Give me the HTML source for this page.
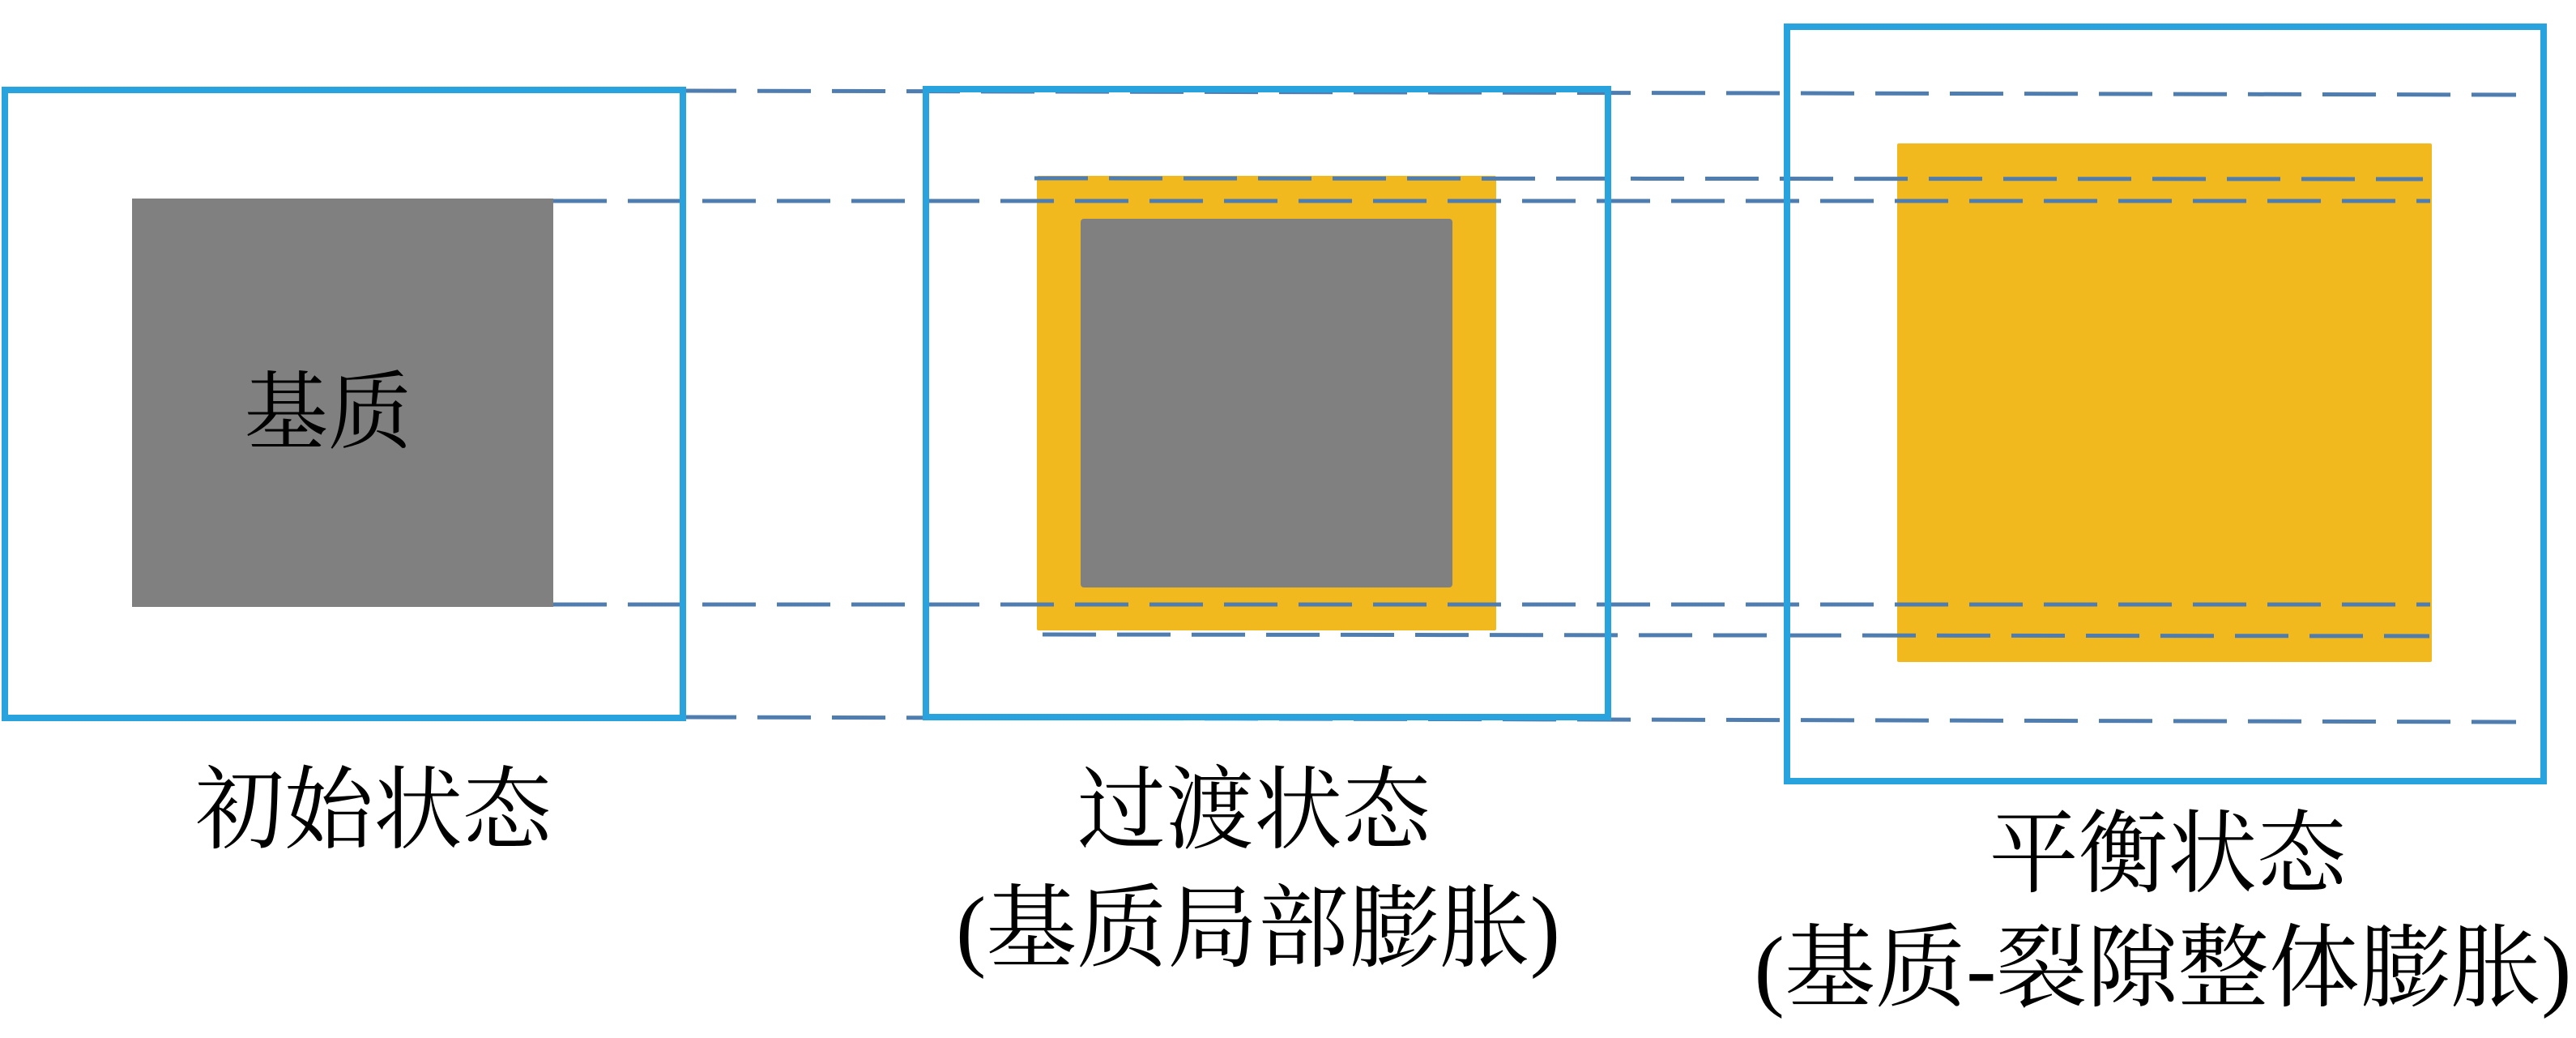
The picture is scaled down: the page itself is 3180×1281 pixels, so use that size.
<!DOCTYPE html>
<html><head><meta charset="utf-8"><style>
html,body{margin:0;padding:0;background:#fff;}
svg{display:block;}
text{font-family:"Liberation Serif","Noto Serif CJK SC",serif;fill:#000;}
</style></head><body>
<svg width="3180" height="1281" viewBox="0 0 3180 1281" xmlns="http://www.w3.org/2000/svg">
<rect x="163" y="245" width="520" height="504" fill="#808080"/>
<rect x="1280" y="217" width="567" height="561" fill="#f2b91f" rx="2"/>
<rect x="1334" y="270" width="459" height="455" fill="#808080" rx="4"/>
<rect x="2342" y="177" width="660" height="640" fill="#f2b91f" rx="2"/>
<g stroke="#4f7db0" stroke-width="5" stroke-dasharray="66,26" fill="none">
<line x1="843" y1="112" x2="3106" y2="117"/>
<line x1="1277" y1="220" x2="2991" y2="221"/>
<line x1="683" y1="248" x2="3000" y2="248"/>
<line x1="683" y1="746" x2="3000" y2="746"/>
<line x1="1287" y1="783" x2="2999" y2="785"/>
<line x1="843" y1="885" x2="3106" y2="891"/>
</g>
<g stroke="#29a3dd" stroke-width="8" fill="none">
<rect x="6" y="111" width="837" height="775"/>
<rect x="1143" y="110" width="842" height="775"/>
<rect x="2206" y="33" width="934" height="931"/>
</g>
<text x="405" y="545" font-size="105" text-anchor="middle" textLength="207" lengthAdjust="spacingAndGlyphs">基质</text>
<text x="461" y="1038" font-size="112" text-anchor="middle" textLength="440" lengthAdjust="spacingAndGlyphs">初始状态</text>
<text x="1548" y="1038" font-size="112" text-anchor="middle" textLength="436" lengthAdjust="spacingAndGlyphs">过渡状态</text>
<text x="1553" y="1184" font-size="112" text-anchor="middle" textLength="746" lengthAdjust="spacingAndGlyphs">(基质局部膨胀)</text>
<text x="2676" y="1092" font-size="112" text-anchor="middle" textLength="441" lengthAdjust="spacingAndGlyphs">平衡状态</text>
<text x="2670" y="1233" font-size="112" text-anchor="middle" textLength="1009" lengthAdjust="spacingAndGlyphs">(基质-裂隙整体膨胀)</text>
</svg>
</body></html>
